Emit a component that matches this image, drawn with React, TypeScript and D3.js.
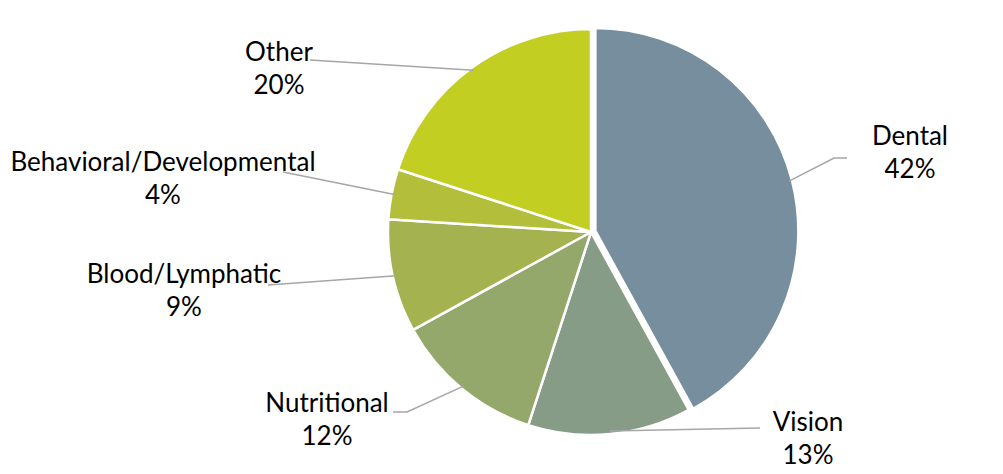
import React from 'react';
import * as d3 from 'd3';

const categories = ['Dental', 'Vision', 'Nutritional', 'Blood/Lymphatic', 'Behavioral/Developmental', 'Other'];
const shares = [42, 13, 12, 9, 4, 20];
const sliceColors = ['#768E9D', '#879C86', '#95A86C', '#A4B24F', '#B3BF3B', '#C3CE23'];

// label layout: text centre x, first baseline y, and leader end points
const labelLayout = [
  { x: 910, y: 145, line: [[834, 158], [847, 158]] },
  { x: 808, y: 431, line: [[760, 428]] },
  { x: 327, y: 412, line: [[407, 412], [393, 412]] },
  { x: 184, y: 283, line: [[268, 285]] },
  { x: 163, y: 171, line: [[283, 172]] },
  { x: 279, y: 61, line: [[310, 60]] },
];

const W = 1003;
const H = 474;
const cx = 591;
const cy = 232;
const R = 203;

const App = () => {
  const pie = d3.pie<number>().sort(null).value((d) => d);
  const arcs = pie(shares);
  const arc = d3.arc<d3.PieArcDatum<number>>().innerRadius(0).outerRadius(R);
  const edgeArc = d3.arc<d3.PieArcDatum<number>>().innerRadius(R * 2 - 6).outerRadius(0);

  return (
    <svg width={W} height={H} style={{ position: 'absolute', left: 0, top: 0 }}>
      <rect width={W} height={H} fill="#fff" />
      <g transform={`translate(${cx},${cy})`}>
        {arcs.map((a, i) => {
          const mid = (a.startAngle + a.endAngle) / 2;
          const off = i === 0 ? 4.5 : 0;
          const dx = Math.sin(mid) * off;
          const dy = -Math.cos(mid) * off;
          return (
            <path
              key={categories[i]}
              d={arc(a) || ''}
              transform={`translate(${dx},${dy})`}
              fill={sliceColors[i]}
              stroke="#fff"
              strokeWidth={2.5}
              strokeLinejoin="round"
            />
          );
        })}
      </g>
      {arcs.map((a, i) => {
        const mid = (a.startAngle + a.endAngle) / 2;
        const off = i === 0 ? 4.5 : 0;
        const [ex, ey] = edgeArc.centroid(a);
        const sx = cx + ex + Math.sin(mid) * off;
        const sy = cy + ey - Math.cos(mid) * off;
        const pts = [[sx, sy], ...labelLayout[i].line];
        return (
          <polyline
            key={'l' + i}
            points={pts.map((p) => p.join(',')).join(' ')}
            fill="none"
            stroke="#A6A6A6"
            strokeWidth={1.5}
          />
        );
      })}
      {categories.map((c, i) => (
        <text
          key={'t' + c}
          x={labelLayout[i].x}
          y={labelLayout[i].y}
          textAnchor="middle"
          fontFamily="Lato, 'Open Sans', sans-serif"
          fontSize={26}
          fill="#000"
        >
          <tspan x={labelLayout[i].x}>{c}</tspan>
          <tspan x={labelLayout[i].x} dy={33}>{shares[i] + '%'}</tspan>
        </text>
      ))}
    </svg>
  );
};

export default App;
